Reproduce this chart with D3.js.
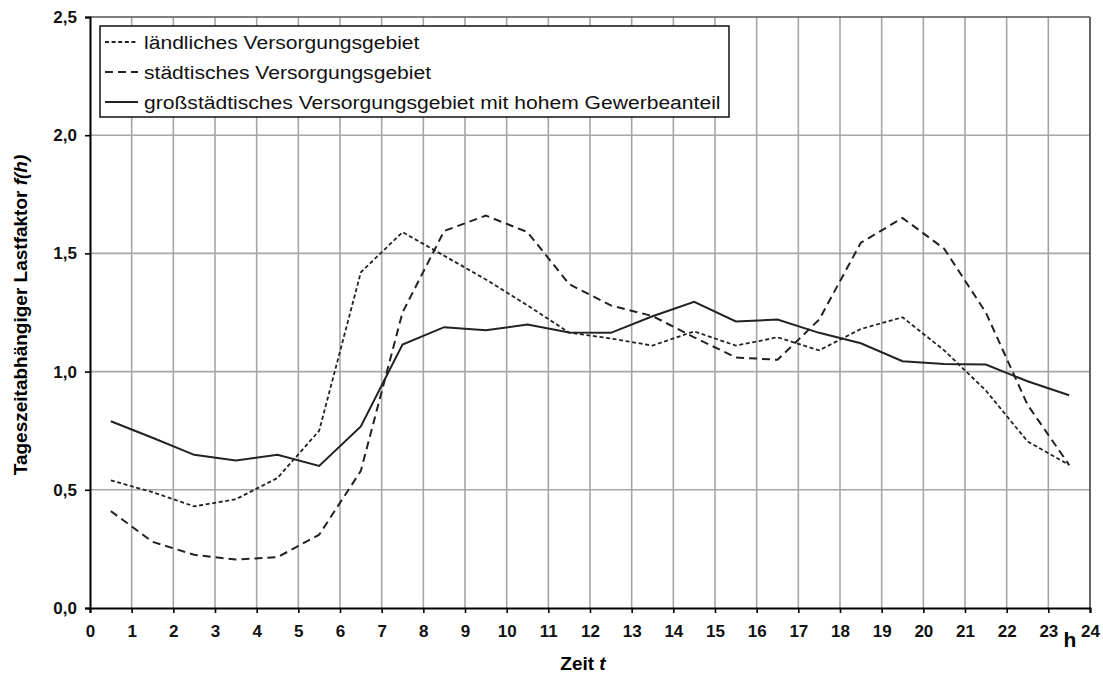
<!DOCTYPE html>
<html>
<head>
<meta charset="utf-8">
<script src="https://cdn.jsdelivr.net/npm/d3@7"></script>
<style>
  body { margin: 0; background: #fff; }
  svg { font-family: "Liberation Sans", Arial, sans-serif; }
</style>
</head>
<body>
<svg width="1103" height="673"></svg>
<script>
const width = 1103, height = 673;
const margin = { top: 17, right: 13, bottom: 65, left: 90 };

// Stunden (Mitte jeder Stunde)
const hours = [0.5, 1.5, 2.5, 3.5, 4.5, 5.5, 6.5, 7.5, 8.5, 9.5, 10.5, 11.5,
               12.5, 13.5, 14.5, 15.5, 16.5, 17.5, 18.5, 19.5, 20.5, 21.5, 22.5, 23.5];

const laendlich = [0.54, 0.49, 0.43, 0.46, 0.55, 0.75, 1.42, 1.59, 1.49, 1.39, 1.28, 1.165,
                   1.14, 1.11, 1.17, 1.11, 1.145, 1.09, 1.18, 1.23, 1.09, 0.92, 0.705, 0.605];
const staedtisch = [0.41, 0.28, 0.225, 0.205, 0.215, 0.31, 0.58, 1.25, 1.595, 1.66, 1.59, 1.37,
                    1.28, 1.235, 1.145, 1.06, 1.05, 1.22, 1.545, 1.65, 1.52, 1.25, 0.86, 0.605];
const grossstaedtisch = [0.79, 0.72, 0.648, 0.624, 0.648, 0.601, 0.768, 1.114, 1.188, 1.175, 1.199, 1.165,
                         1.164, 1.234, 1.295, 1.212, 1.22, 1.164, 1.12, 1.044, 1.032, 1.03, 0.959, 0.90];

const xTicks = d3.range(0, 25);
const yTicks = [0, 0.5, 1.0, 1.5, 2.0, 2.5];

const seriesNames = [
  "ländliches Versorgungsgebiet",
  "städtisches Versorgungsgebiet",
  "großstädtisches Versorgungsgebiet mit hohem Gewerbeanteil"
];

const series = [
  { name: seriesNames[0], values: laendlich, dash: "4,2.6", w: 1.8 },
  { name: seriesNames[1], values: staedtisch, dash: "8,5", w: 2 },
  { name: seriesNames[2], values: grossstaedtisch, dash: null, w: 2 }
];

const svg = d3.select("svg");
const iw = width - margin.left - margin.right;
const ih = height - margin.top - margin.bottom;

const x = d3.scaleLinear().domain([0, 24]).range([0, iw]);
const y = d3.scaleLinear().domain([0, 2.5]).range([ih, 0]);
const fmt = v => d3.format(".1f")(v).replace(".", ",");

const g = svg.append("g").attr("transform", `translate(${margin.left},${margin.top})`);

// Gitter
g.append("g")
  .selectAll("line.vgrid")
  .data(xTicks.slice(1, -1))
  .enter().append("line")
  .attr("x1", d => x(d)).attr("x2", d => x(d))
  .attr("y1", 0).attr("y2", ih)
  .attr("stroke", "#a6a6a6").attr("stroke-width", 1.6);

g.append("g")
  .selectAll("line.hgrid")
  .data(yTicks.slice(1, -1))
  .enter().append("line")
  .attr("x1", 0).attr("x2", iw)
  .attr("y1", d => y(d)).attr("y2", d => y(d))
  .attr("stroke", "#a6a6a6").attr("stroke-width", 1.6);

// Rahmen oben / rechts
g.append("line").attr("x1", 0).attr("x2", iw).attr("y1", 0).attr("y2", 0)
  .attr("stroke", "#555").attr("stroke-width", 1.6);
g.append("line").attr("x1", iw).attr("x2", iw).attr("y1", 0).attr("y2", ih)
  .attr("stroke", "#555").attr("stroke-width", 1.8);

// Achsen
const xAxis = g.append("g")
  .attr("transform", `translate(0,${ih})`)
  .call(d3.axisBottom(x).tickValues(xTicks).tickSize(5).tickPadding(12).tickFormat(d3.format("d")));
const yAxis = g.append("g")
  .call(d3.axisLeft(y).tickValues(yTicks).tickSize(5).tickPadding(8).tickFormat(fmt));

[xAxis, yAxis].forEach(a => {
  a.select(".domain").attr("stroke", "#000").attr("stroke-width", 2);
  a.selectAll(".tick line").attr("stroke", "#000").attr("stroke-width", 1.6);
  a.selectAll("text")
    .attr("fill", "#111")
    .style("font-size", "17px")
    .style("font-weight", "bold");
});

// Linien
const line = d3.line()
  .x((d, i) => x(hours[i]))
  .y(d => y(d));

g.selectAll("path.series")
  .data(series)
  .enter().append("path")
  .attr("class", "series")
  .attr("d", d => line(d.values))
  .attr("fill", "none")
  .attr("stroke", "#222")
  .attr("stroke-width", d => d.w)
  .attr("stroke-dasharray", d => d.dash);

// Legende
const legend = svg.append("g").attr("transform", "translate(100,26)");
legend.append("rect")
  .attr("width", 629).attr("height", 91)
  .attr("fill", "#fff").attr("stroke", "#111").attr("stroke-width", 1.5);

const rows = legend.selectAll("g.row")
  .data(series)
  .enter().append("g")
  .attr("class", "row")
  .attr("transform", (d, i) => `translate(0,${16 + i * 30})`);

rows.append("line")
  .attr("x1", 5).attr("x2", 38)
  .attr("stroke", "#222")
  .attr("stroke-width", d => d.w)
  .attr("stroke-dasharray", d => d.dash);

rows.append("text")
  .attr("transform", "translate(44,0) scale(1.11,1)")
  .attr("dy", "0.35em")
  .style("font-size", "19px")
  .attr("fill", "#111")
  .text(d => d.name);

// Einheit "h"
svg.append("text")
  .attr("x", 1070).attr("y", 647)
  .attr("text-anchor", "middle")
  .style("font-size", "21px").style("font-weight", "bold")
  .text("h");

// Achsentitel
const xt = svg.append("text")
  .attr("x", 583).attr("y", 670)
  .attr("text-anchor", "middle")
  .style("font-size", "19px").style("font-weight", "bold");
xt.append("tspan").text("Zeit ");
xt.append("tspan").style("font-style", "italic").text("t");

const yt = svg.append("text")
  .attr("transform", "translate(27,315) rotate(-90)")
  .attr("text-anchor", "middle")
  .style("font-size", "19px").style("font-weight", "bold");
yt.append("tspan").text("Tageszeitabhängiger Lastfaktor ");
yt.append("tspan").style("font-style", "italic").text("f(h)");
</script>
</body>
</html>
